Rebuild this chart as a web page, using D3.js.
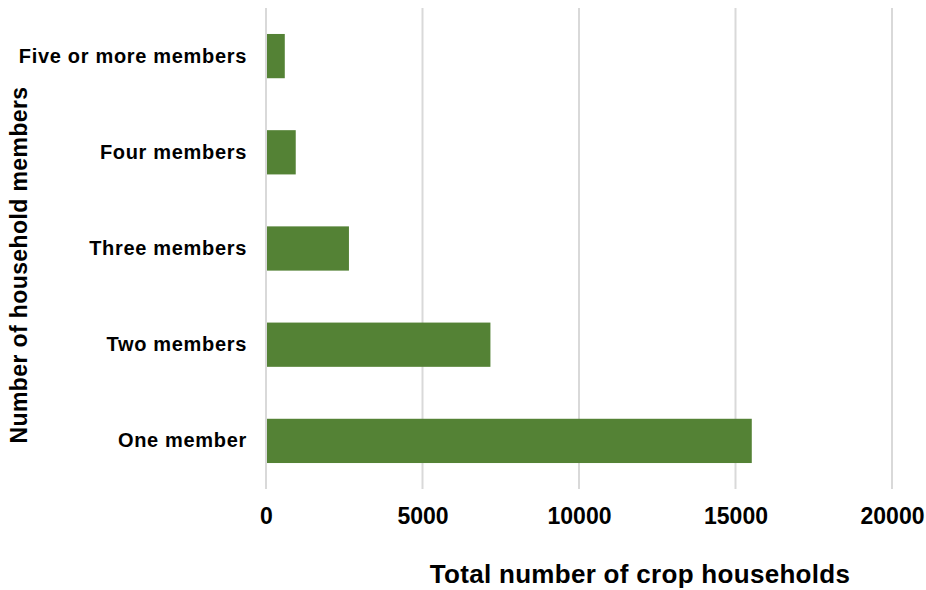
<!DOCTYPE html>
<html><head><meta charset="utf-8">
<script src="https://cdn.jsdelivr.net/npm/d3@7"></script>
<style>body{margin:0;background:#fff}svg{display:block}text{font-family:"Liberation Sans",Arial,sans-serif;font-weight:bold;fill:#000}</style>
</head><body><svg id="c" width="926" height="590"></svg>
<script>
const categories = ["Five or more members","Four members","Three members","Two members","One member"];
const values = [600, 950, 2650, 7170, 15520];
const xTicks = [0, 5000, 10000, 15000, 20000];
const xTitle = "Total number of crop households";
const yTitle = "Number of household members";

const svg = d3.select("#c");
const x = d3.scaleLinear().domain([0, 20000]).range([266, 892]);
const y = d3.scaleBand().domain(categories).range([8, 489]).paddingInner(0.54).paddingOuter(0.27);

svg.append("g").selectAll("line").data(xTicks).join("line")
  .attr("x1", d => x(d)).attr("x2", d => x(d)).attr("y1", 8).attr("y2", 489)
  .attr("stroke", "#d9d9d9").attr("stroke-width", 2);

svg.append("g").selectAll("rect").data(values).join("rect")
  .attr("x", x(0) + 1).attr("y", (d, i) => y(categories[i]))
  .attr("width", d => x(d) - x(0) - 1).attr("height", y.bandwidth())
  .attr("fill", "#548235");

const xa = svg.append("g").attr("transform", "translate(0,489)")
  .call(d3.axisBottom(x).tickValues(xTicks).tickSize(0).tickPadding(19).tickFormat(d3.format("d")));
xa.select(".domain").remove();
xa.selectAll("text").style("font-size", "23px").style("font-family", '"Liberation Sans",Arial,sans-serif').style("font-weight", "bold").attr("fill", "#000");

const ya = svg.append("g").attr("transform", "translate(266,0)")
  .call(d3.axisLeft(y).tickSize(0).tickPadding(19));
ya.select(".domain").remove();
ya.selectAll("text").style("font-size", "20px").style("letter-spacing", "0.68px").style("font-family", '"Liberation Sans",Arial,sans-serif').style("font-weight", "bold").attr("fill", "#000");

svg.append("text").attr("x", 640).attr("y", 583).attr("text-anchor", "middle")
  .style("font-size", "26px").style("letter-spacing", "0.3px").text(xTitle);
svg.append("text").attr("transform", "translate(27,265) rotate(-90)").attr("text-anchor", "middle")
  .style("font-size", "23px").style("letter-spacing", "0.4px").text(yTitle);
</script></body></html>
